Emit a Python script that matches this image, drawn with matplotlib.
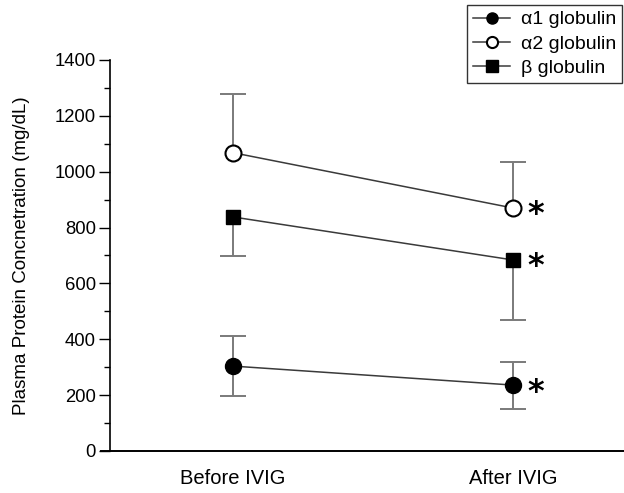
import matplotlib
matplotlib.use("Agg")
import matplotlib.pyplot as plt
import numpy as np

plt.rcParams["font.family"] = ["Liberation Sans", "DejaVu Sans"]

# ---------------------------------------------------------------------------
# Data (mg/dL)
# ---------------------------------------------------------------------------
groups = ["Before IVIG", "After IVIG"]

a1_mean = [304, 236]
a1_lo = [107, 86]
a1_hi = [108, 83]

a2_mean = [1068, 870]
a2_lo = [0, 0]
a2_hi = [210, 165]

b_mean = [838, 684]
b_lo = [140, 215]
b_hi = [0, 0]

significant = [False, True]

LINE = "#3a3a3a"
ERR = "#7a7a7a"

x = np.arange(1, len(groups) + 1)

fig = plt.figure(figsize=(6.24, 4.93), dpi=100)
ax = fig.add_axes([0.1763, 0.0852, 0.8237, 0.7931])

series = [
    ("\u03b11 globulin", a1_mean, a1_lo, a1_hi, dict(marker="o", mfc="black", mec="black", ms=11.5)),
    ("\u03b12 globulin", a2_mean, a2_lo, a2_hi, dict(marker="o", mfc="white", mec="black", ms=11.5, mew=1.5)),
    ("\u03b2 globulin", b_mean, b_lo, b_hi, dict(marker="s", mfc="black", mec="black", ms=10.5)),
]

handles = []
for label, mean, lo, hi, mk in series:
    mean = np.asarray(mean, float)
    lo = np.asarray(lo, float)
    hi = np.asarray(hi, float)
    # one-sided / two-sided SD bars
    for xi, m, l, h in zip(x, mean, lo, hi):
        if h > 0:
            ax.vlines(xi, m, m + h, color=ERR, lw=1.4, zorder=1)
            ax.plot(xi, m + h, marker="_", ms=19, mew=1.4, color=ERR, zorder=1)
        if l > 0:
            ax.vlines(xi, m - l, m, color=ERR, lw=1.4, zorder=1)
            ax.plot(xi, m - l, marker="_", ms=19, mew=1.4, color=ERR, zorder=1)
    ax.plot(x, mean, "-", color=LINE, lw=1.1, zorder=2)
    ax.plot(x, mean, linestyle="none", zorder=3, **mk)
    handles.append(plt.Line2D([], [], color=LINE, lw=1.1, **mk))
    for xi, m, sig in zip(x, mean, significant):
        if sig:
            ax.annotate("*", (xi, m), xytext=(16, -5), textcoords="offset points",
                        ha="center", va="center", fontsize=23, fontweight="bold",
                        family="DejaVu Sans")

ax.set_xlim(0.5607, 2.396)
ax.set_ylim(0, 1400)
ax.set_yticks(np.arange(0, 1401, 200))
ax.set_yticks(np.arange(100, 1400, 200), minor=True)
ax.set_xticks(x)
ax.set_xticklabels(groups, fontsize=14.5)
ax.tick_params(axis="x", length=0, pad=13)
ax.tick_params(axis="y", which="major", direction="out", length=8, width=1, labelsize=13.3, pad=2)
ax.tick_params(axis="y", which="minor", direction="out", length=4, width=1)
ax.set_ylabel("Plasma Protein Concnetration (mg/dL)", fontsize=13.5, labelpad=18)

for side in ("top", "right"):
    ax.spines[side].set_visible(False)
ax.spines["left"].set_linewidth(1.2)
ax.spines["bottom"].set_linewidth(1.4)
ax.spines["bottom"].set_bounds(0.5607 - 0.032, 2.396)

leg = fig.legend(handles, [s[0] for s in series], loc="upper left",
                 bbox_to_anchor=(0.749, 0.99), fontsize=14, frameon=True,
                 fancybox=False, edgecolor="black", handlelength=1.9,
                 handletextpad=0.55, borderpad=0.3, labelspacing=0.35,
                 borderaxespad=0)
leg.get_frame().set_linewidth(1.0)
for h in leg.legend_handles:
    h.set_markersize(8)

fig.savefig("out.png", dpi=100, facecolor="white")
